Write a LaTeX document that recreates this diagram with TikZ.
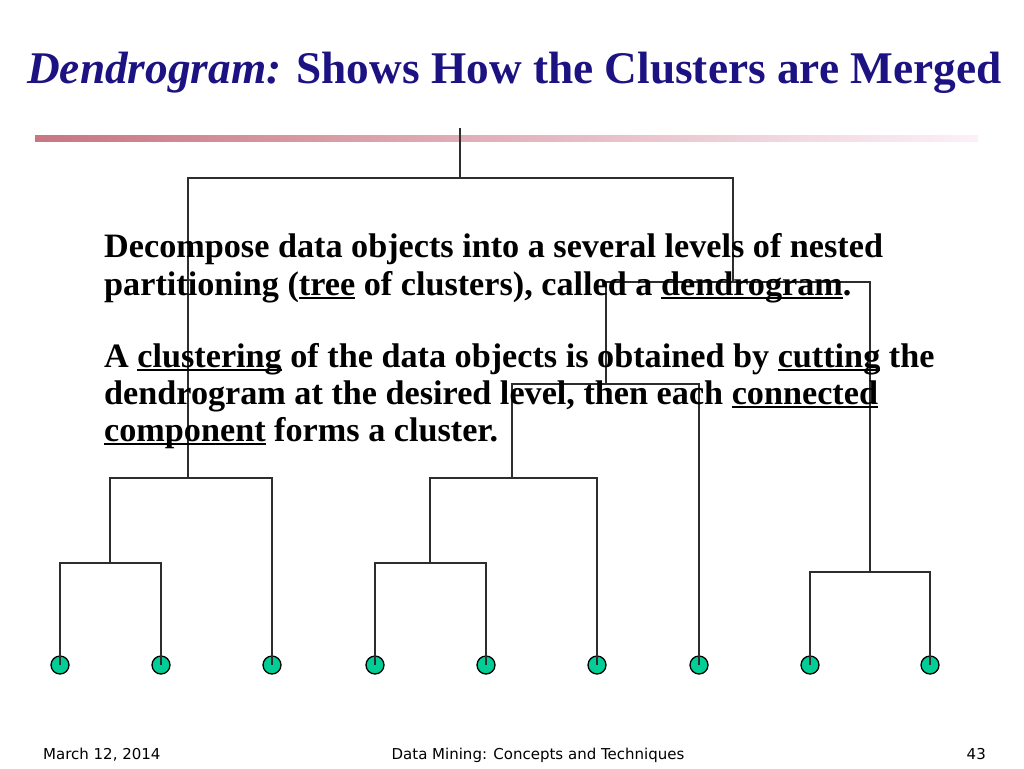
\documentclass[tikz,border=0pt]{standalone}
\usepackage{fontspec}
\setmainfont{Liberation Serif}
\newfontfamily\footfont{DejaVu Sans}
\definecolor{titleblue}{RGB}{28,18,130}
\definecolor{barrose}{RGB}{200,118,130}
\definecolor{barpink}{RGB}{252,240,248}
\definecolor{leafgreen}{RGB}{0,206,150}
\definecolor{linkgray}{RGB}{45,45,45}
\newcommand\undl[1]{\setbox0\hbox{#1}\rlap{\rule[-4pt]{\wd0}{1.8pt}}\box0\relax}

\begin{document}
\begin{tikzpicture}[x=1pt,y=-1pt,
    leaf/.style={circle,draw=black,fill=leafgreen,line width=1.3pt,minimum size=18pt,inner sep=0pt},
    link/.style={draw=linkgray,line width=1.5pt},
    bodyline/.style={anchor=base west,inner sep=0pt,font=\fontsize{34.2}{37}\selectfont\bfseries},
    footline/.style={anchor=base,inner sep=0pt,font=\footfont\fontsize{15}{17}\selectfont}]
\useasboundingbox (0,0) rectangle (1024,768);

% title and bar
\node (title) [anchor=base west,inner sep=0pt,text=titleblue,font=\fontsize{45.3}{50}\selectfont\bfseries]
    at (27,83) {\itshape Dendrogram:\upshape{} Shows How the Clusters are Merged};
\shade [left color=barrose,right color=barpink] (35,135) rectangle (978,141);

% leaves
\node (l1) [leaf] at (60,665) {};
\node (l2) [leaf] at (161,665) {};
\node (l3) [leaf] at (272,665) {};
\node (l4) [leaf] at (375,665) {};
\node (l5) [leaf] at (486,665) {};
\node (l6) [leaf] at (597,665) {};
\node (l7) [leaf] at (699,665) {};
\node (l8) [leaf] at (810,665) {};
\node (l9) [leaf] at (930,665) {};

% merge points
\coordinate (m12) at (110,563);
\coordinate (m123) at (188,478);
\coordinate (m45) at (430,563);
\coordinate (m456) at (512,478);
\coordinate (m4567) at (606,384);
\coordinate (m89) at (870,572);
\coordinate (mright) at (733,282);
\coordinate (mall) at (460,178);
\coordinate (root) at (460,128);

\draw [link] (l1.center) |- (m12) -| (l2.center);
\draw [link] (m12) |- (m123) -| (l3.center);
\draw [link] (l4.center) |- (m45) -| (l5.center);
\draw [link] (m45) |- (m456) -| (l6.center);
\draw [link] (m456) |- (m4567) -| (l7.center);
\draw [link] (l8.center) |- (m89) -| (l9.center);
\draw [link] (m4567) |- (mright) -| (m89);
\draw [link] (m123) |- (mall) -| (mright);
\draw [link] (mall) -- (root);

% text
\node (t1) [bodyline] at (104,257) {Decompose data objects into a several levels of nested};
\node (t2) [bodyline] at (104,295) {partitioning (\undl{tree} of clusters), called a \undl{dendrogram}.};
\node (t3) [bodyline] at (104,367) {A \undl{clustering} of the data objects is obtained by \undl{cutting} the};
\node (t4) [bodyline] at (104,404) {dendrogram at the desired level, then each \undl{connected}};
\node (t5) [bodyline] at (104,441) {\undl{component} forms a cluster.};

% footer
\node (date) [footline,anchor=base west] at (43,759) {March 12, 2014};
\node (course) [footline] at (538,759) {Data Mining: Concepts and Techniques};
\node (page) [footline,anchor=base east] at (986,759) {43};
\end{tikzpicture}
\end{document}
